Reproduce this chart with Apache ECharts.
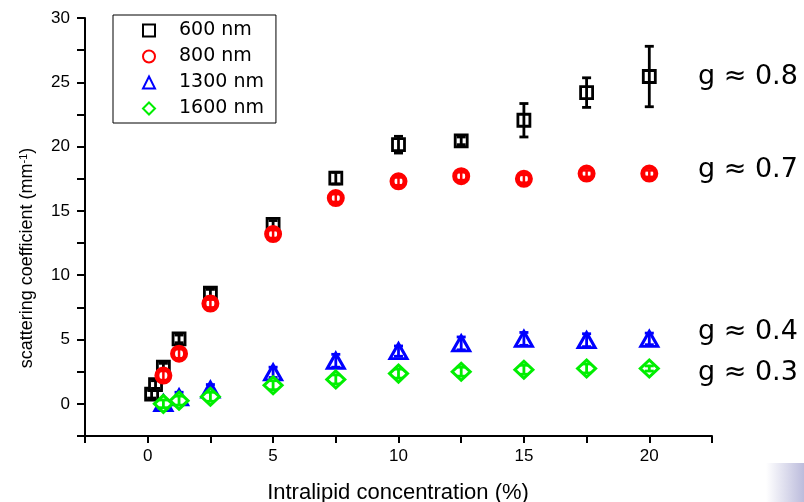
<!DOCTYPE html>
<html><head><meta charset="utf-8">
<script src="https://cdn.jsdelivr.net/npm/echarts@6/dist/echarts.min.js"></script>
<style>html,body{margin:0;padding:0;background:#fff}#c{width:804px;height:502px}</style>
</head><body><div id="c"></div>
<script>
// Intralipid concentration (%)
const conc600 = [0.156, 0.3125, 0.625, 1.25, 2.5, 5, 7.5, 10, 12.5, 15, 17.5, 20];
const conc = [0.625, 1.25, 2.5, 5, 7.5, 10, 12.5, 15, 17.5, 20];
// scattering coefficient (mm^-1)
const mu600 = [0.75, 1.5, 2.85, 5.05, 8.6, 13.95, 17.55, 20.15, 20.45, 22.05, 24.2, 25.45];
const err600 = [0.3, 0.3, 0.3, 0.3, 0.3, 0.3, 0.45, 0.65, 0.3, 1.3, 1.15, 2.35];
const mu800 = [2.2, 3.9, 7.8, 13.2, 16.0, 17.3, 17.7, 17.5, 17.9, 17.9];
const err800 = [0.35, 0.35, 0.3, 0.3, 0.3, 0.3, 0.3, 0.3, 0.25, 0.25];
const mu1300 = [0.05, 0.5, 1.1, 2.45, 3.35, 4.1, 4.7, 5.05, 4.95, 5.05];
const err1300 = [0.3, 0.4, 0.4, 0.4, 0.5, 0.4, 0.5, 0.5, 0.5, 0.45];
const mu1600 = [0.0, 0.25, 0.55, 1.45, 1.9, 2.35, 2.5, 2.65, 2.75, 2.75];
const err1600 = [0.3, 0.35, 0.35, 0.35, 0.35, 0.35, 0.35, 0.35, 0.35, 0.2];
const seriesNames = ['600 nm', '800 nm', '1300 nm', '1600 nm'];
const seriesColors = ['#000000', '#ff0000', '#0000ff', '#00ee00'];
const gLabels = ['g ≈ 0.8', 'g ≈ 0.7', 'g ≈ 0.4', 'g ≈ 0.3'];
const xTitle = 'Intralipid concentration (%)';
const xTicks = [0, 5, 10, 15, 20];
const yTicks = [0, 5, 10, 15, 20, 25, 30];

const pts = (xs, ys) => xs.map((x, i) => [x, ys[i]]);
const errPts = (xs, ys, es) => xs.map((x, i) => [x, ys[i], es[i]]);

function errSeries(data, color, capW, lw, z) {
  return {
    type: 'custom', name: 'err', z: z, silent: true,
    renderItem: function (params, api) {
      const x = api.value(0), y = api.value(1), e = api.value(2);
      const lo = api.coord([x, y - e]), hi = api.coord([x, y + e]);
      const st = { stroke: color, lineWidth: lw };
      return { type: 'group', children: [
        { type: 'line', shape: { x1: lo[0], y1: lo[1], x2: hi[0], y2: hi[1] }, style: st },
        { type: 'line', shape: { x1: lo[0] - capW / 2, y1: lo[1], x2: lo[0] + capW / 2, y2: lo[1] }, style: st },
        { type: 'line', shape: { x1: hi[0] - capW / 2, y1: hi[1], x2: hi[0] + capW / 2, y2: hi[1] }, style: st }
      ] };
    },
    encode: { x: 0, y: 1 },
    data: data
  };
}

const fmt = (ticks) => (v) => (ticks.indexOf(Number(v)) >= 0 ? String(v) : '');

const chart = echarts.init(document.getElementById('c'), null, { renderer: 'canvas' });
chart.setOption({
  animation: false,
  backgroundColor: '#fff',
  grid: { left: 85, top: 18, width: 627, height: 418, containLabel: false },
  xAxis: {
    type: 'value', min: -2.5, max: 22.5, interval: 2.5,
    axisLine: { show: true, onZero: false, lineStyle: { color: '#000', width: 2 } },
    axisTick: { show: true, inside: false, length: 7, lineStyle: { color: '#000', width: 2 } },
    axisLabel: { formatter: fmt(xTicks), color: '#000', fontSize: 17, fontFamily: 'Liberation Sans', margin: 12 },
    splitLine: { show: false }
  },
  yAxis: {
    type: 'value', min: -2.5, max: 30, interval: 2.5,
    axisLine: { show: true, onZero: false, lineStyle: { color: '#000', width: 2 } },
    axisTick: { show: true, inside: false, length: 8, lineStyle: { color: '#000', width: 2 } },
    axisLabel: { formatter: fmt(yTicks), color: '#000', fontSize: 17, fontFamily: 'Liberation Sans', margin: 15 },
    splitLine: { show: false }
  },
  legend: {
    data: seriesNames, orient: 'vertical', left: 113, top: 15,
    padding: [6, 12, 5, 29], itemGap: 7, itemWidth: 12, itemHeight: 12,
    borderColor: '#000', borderWidth: 1, backgroundColor: '#fff',
    selectedMode: false,
    itemStyle: { borderWidth: 2 },
    textStyle: { fontSize: 19, fontFamily: 'DejaVu Sans', color: '#000', padding: [0, 0, 0, 19] }
  },
  graphic: [
    { type: 'text', silent: true, style: { x: 698, y: 77, text: gLabels[0], fontSize: 27, fontFamily: 'DejaVu Sans', fill: '#000', verticalAlign: 'middle' } },
    { type: 'text', silent: true, style: { x: 698, y: 170, text: gLabels[1], fontSize: 27, fontFamily: 'DejaVu Sans', fill: '#000', verticalAlign: 'middle' } },
    { type: 'text', silent: true, style: { x: 698, y: 332, text: gLabels[2], fontSize: 27, fontFamily: 'DejaVu Sans', fill: '#000', verticalAlign: 'middle' } },
    { type: 'text', silent: true, style: { x: 698, y: 373, text: gLabels[3], fontSize: 27, fontFamily: 'DejaVu Sans', fill: '#000', verticalAlign: 'middle' } },
    { type: 'text', silent: true, style: { x: 398, y: 493, text: xTitle, fontSize: 22, fontFamily: 'Liberation Sans', fill: '#000', align: 'center', verticalAlign: 'middle' } },
    { type: 'text', silent: true, x: 27, y: 258, rotation: Math.PI / 2,
      style: { x: 0, y: 0, text: '{a|scattering coefficient (mm}{s|-1}{a|)}', align: 'center', verticalAlign: 'middle', fill: '#000',
        rich: { a: { fontSize: 18, fontFamily: 'Liberation Sans', fill: '#000' }, s: { fontSize: 11, fontFamily: 'Liberation Sans', fill: '#000', verticalAlign: 'top' } } } },
    { type: 'rect', silent: true, shape: { x: 766, y: 463, width: 38, height: 39 },
      style: { fill: new echarts.graphic.LinearGradient(0, 0, 1, 0, [{ offset: 0, color: '#ffffff' }, { offset: 1, color: '#bcbcdc' }]) } }
  ],
  series: [
    { type: 'scatter', name: seriesNames[0], z: 2, symbol: 'rect', symbolSize: 12, data: pts(conc600, mu600),
      itemStyle: { color: '#fff', borderColor: seriesColors[0], borderWidth: 2.8, opacity: 1 } },
    errSeries(errPts(conc600, mu600, err600), seriesColors[0], 9, 2.8, 3),
    { type: 'scatter', name: seriesNames[1], z: 4, symbol: 'circle', symbolSize: 13, data: pts(conc, mu800),
      itemStyle: { color: '#fff', borderColor: seriesColors[1], borderWidth: 5, opacity: 1 } },
    errSeries(errPts(conc, mu800, err800), seriesColors[1], 8, 2.5, 5),
    { type: 'scatter', name: seriesNames[2], z: 6, symbol: 'triangle', symbolSize: [17, 15], data: pts(conc, mu1300),
      itemStyle: { color: '#fff', borderColor: seriesColors[2], borderWidth: 3, opacity: 1 } },
    errSeries(errPts(conc, mu1300, err1300), seriesColors[2], 9, 2.8, 7),
    { type: 'scatter', name: seriesNames[3], z: 8, symbol: 'diamond', symbolSize: [18, 17], data: pts(conc, mu1600),
      itemStyle: { color: '#fff', borderColor: seriesColors[3], borderWidth: 3, opacity: 1 } },
    errSeries(errPts(conc, mu1600, err1600), seriesColors[3], 9, 2.8, 9)
  ]
});
</script></body></html>
